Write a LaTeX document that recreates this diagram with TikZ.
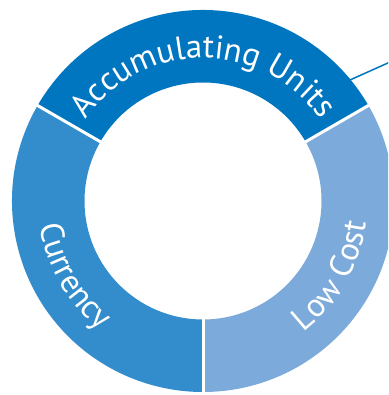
\documentclass[tikz,border=0pt]{standalone}
\usepackage{fontspec}
\setmainfont{PT Sans}
\usetikzlibrary{decorations.text}

\definecolor{unitblue}{RGB}{0,118,192}
\definecolor{currblue}{RGB}{51,141,204}
\definecolor{costblue}{RGB}{124,171,219}
\newcommand\ringfont{\fontsize{33pt}{34pt}\selectfont}

\begin{document}
\begin{tikzpicture}[x=1pt,y=1pt,
    ringtext/.style={decorate,decoration={text along path,text align=center,
      text color=white,text={|\ringfont|#1}}}]
  \useasboundingbox (-203,-194) rectangle (185,201);
  \clip (-203,-194) rectangle (185,201);
  % the three segments
  \foreach \a/\c in {30/unitblue,150/currblue,270/costblue}
    \fill[\c] (\a:191) arc[start angle=\a,delta angle=120,radius=191pt]
      -- ({\a+120}:118.5) arc[start angle=\a+120,delta angle=-120,radius=118.5pt] -- cycle;
  \foreach \a in {30,150,270}
    \draw[white,line width=3pt] (\a:115) -- (\a:195);
  % labels
  \path[ringtext={Accumulating Units}] (150:143) arc[start angle=150,end angle=30,radius=143pt];
  \path[ringtext={Currency}] (150:165) arc[start angle=150,end angle=270,radius=165pt];
  \path[ringtext={Low Cost}] (270:165) arc[start angle=270,end angle=390,radius=165pt];
  % pointer
  \coordinate (rim) at (39.5:190);
  \coordinate (tag) at (205,147);
  \draw[unitblue,line width=1.5pt] (rim) -- (tag);
\end{tikzpicture}
\end{document}
